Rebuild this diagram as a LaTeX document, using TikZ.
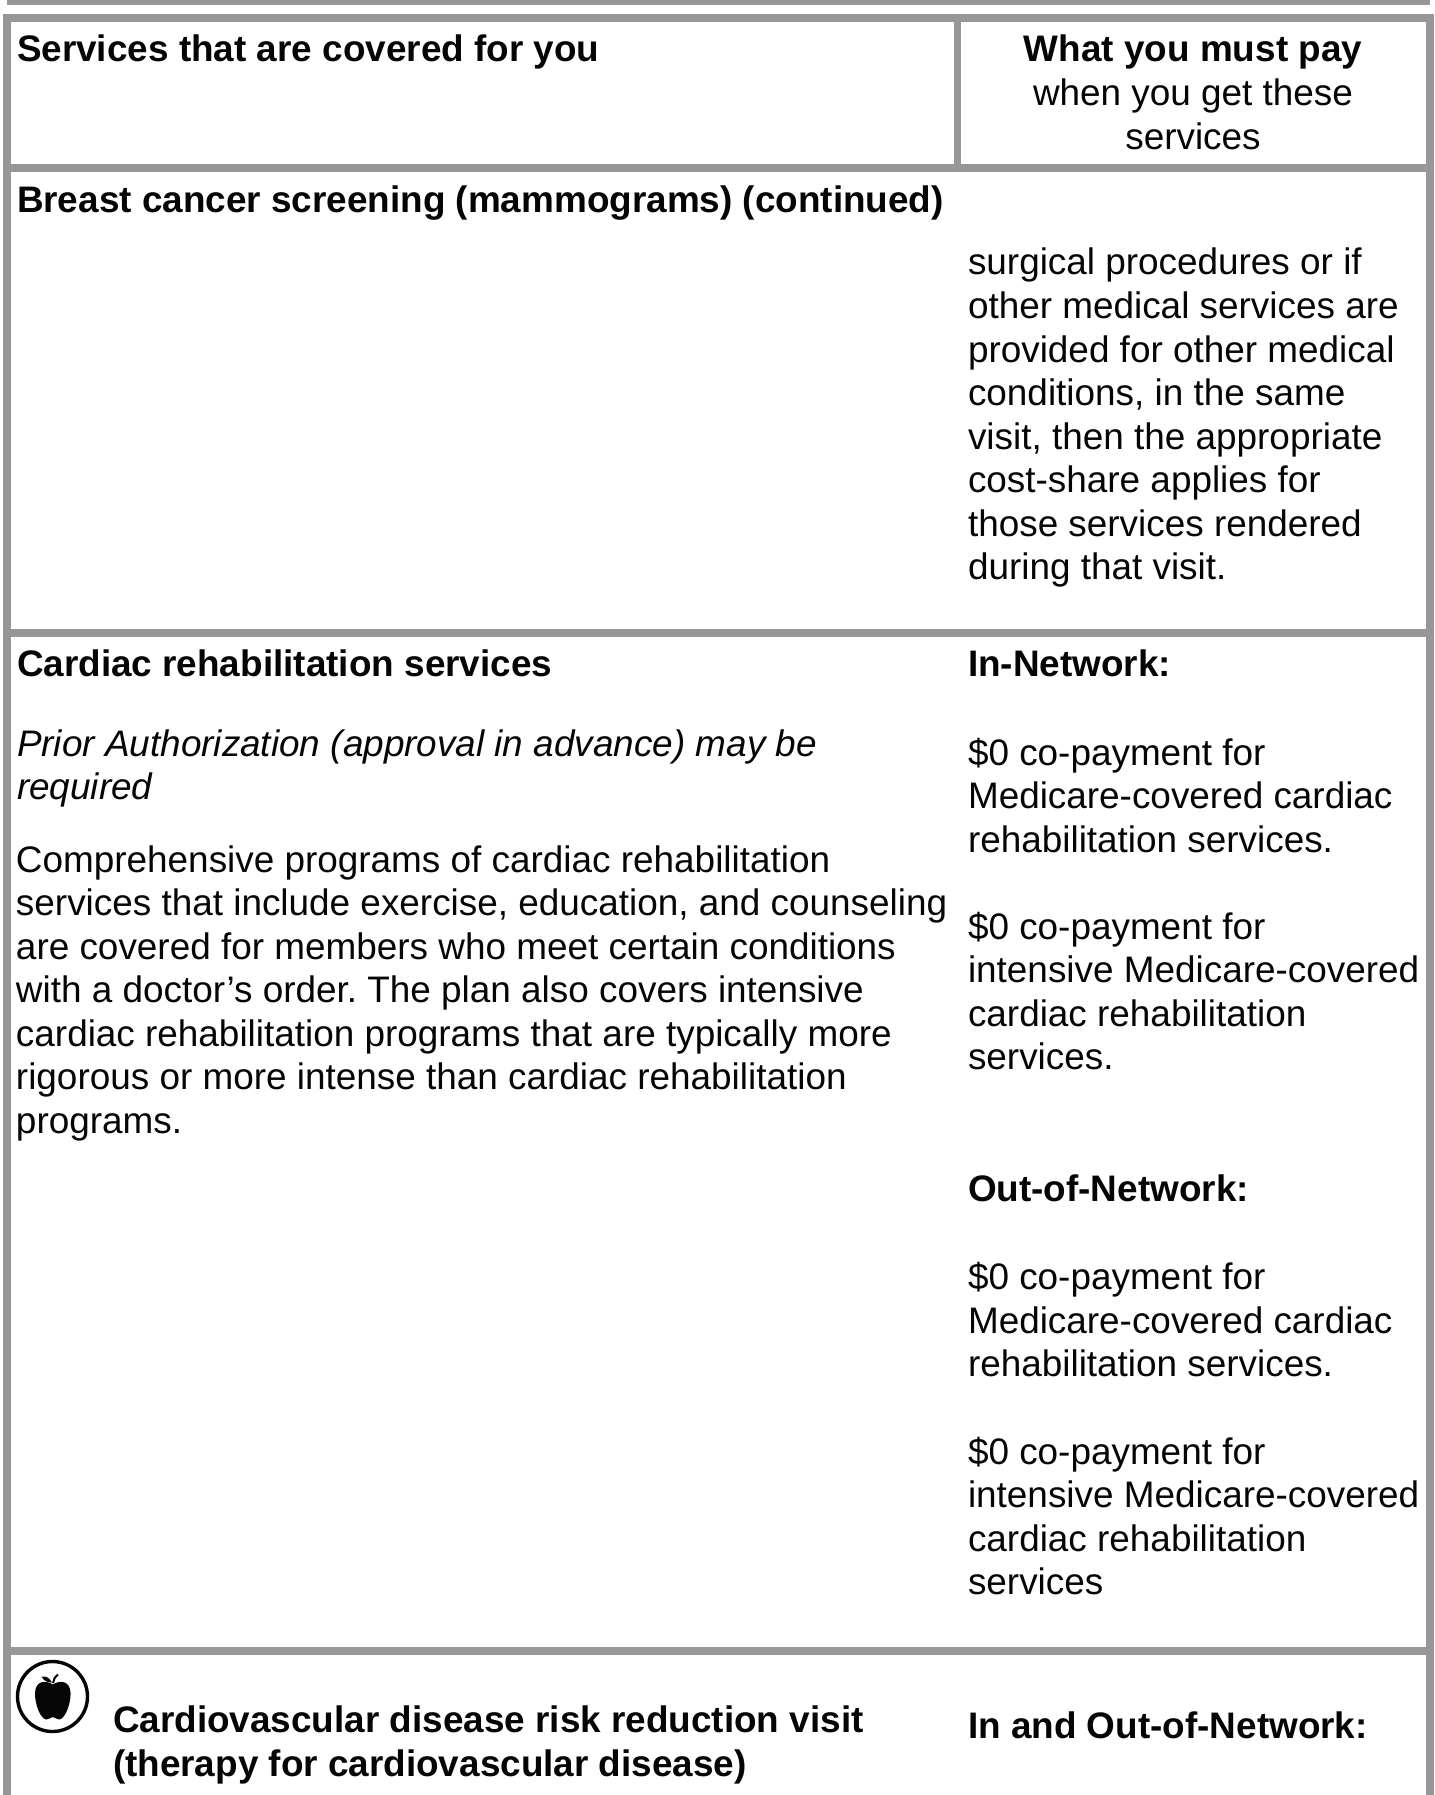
\documentclass[tikz,border=0pt]{standalone}
\usepackage{fontspec}
\setmainfont{Liberation Sans}
\frenchspacing
\definecolor{rulegray}{HTML}{979797}
\definecolor{inkblack}{HTML}{050505}
\tikzset{
  txt/.style={anchor=base west,inner sep=0pt,outer sep=0pt,text=inkblack,font=\fontsize{36.9}{43.5}\selectfont},
  btxt/.style={txt,font=\fontsize{36.9}{43.5}\selectfont\bfseries},
  itxt/.style={txt,font=\fontsize{36.9}{43.5}\selectfont\itshape},
  ctxt/.style={txt,anchor=base},
  cbtxt/.style={btxt,anchor=base},
  bar/.style={fill=rulegray,draw=none}
}
\begin{document}
\begin{tikzpicture}[x=1pt,y=-1pt]
\useasboundingbox (0,0) rectangle (1434,1795);
\fill[white] (0,0) rectangle (1434,1795);
% rules
\fill[bar] (7,0) rectangle (1430,5);
\fill[bar] (3,14) rectangle (1434,22);
\fill[bar] (3,14) rectangle (11,1795);
\fill[bar] (1426,14) rectangle (1434,1795);
\fill[bar] (954,14) rectangle (961,172);
\fill[bar] (3,164) rectangle (1434,172);
\fill[bar] (3,629) rectangle (1434,637);
\fill[bar] (3,1647) rectangle (1434,1655);
% header
\node[btxt] (h1) at (17,62) {Services that are covered for you};
\node[cbtxt] (h2) at (1193,62) {What you must pay};
\node[ctxt] (h3) at (1193,106) {when you get these};
\node[ctxt] (h4) at (1193,149.5) {services};
% breast
\node[btxt] (b1) at (17,213) {Breast cancer screening (mammograms) (continued)};
\node[txt] (b2) at (968,275) {surgical procedures or if};
\node[txt] (b3) at (968,318.5) {other medical services are};
\node[txt] (b4) at (968,362) {provided for other medical};
\node[txt] (b5) at (968,405.5) {conditions, in the same};
\node[txt] (b6) at (968,449) {visit, then the appropriate};
\node[txt] (b7) at (968,492.5) {cost-share applies for};
\node[txt] (b8) at (968,536) {those services rendered};
\node[txt] (b9) at (968,579.5) {during that visit.};
% cardiac left
\node[btxt] (c1) at (17,676) {Cardiac rehabilitation services};
\node[itxt] (c2) at (17,756) {Prior Authorization (approval in advance) may be};
\node[itxt] (c3) at (17,799) {required};
\node[txt] (c4) at (16,872) {Comprehensive programs of cardiac rehabilitation};
\node[txt] (c5) at (16,915.5) {services that include exercise, education, and counseling};
\node[txt] (c6) at (16,959) {are covered for members who meet certain conditions};
\node[txt] (c7) at (16,1002.5) {with a doctor’s order. The plan also covers intensive};
\node[txt] (c8) at (16,1046) {cardiac rehabilitation programs that are typically more};
\node[txt] (c9) at (16,1089.5) {rigorous or more intense than cardiac rehabilitation};
\node[txt] (c10) at (16,1133) {programs.};
% cardiac right
\node[btxt] (r1) at (968,676) {In-Network:};
\node[txt] (r2) at (968,765) {\$0 co-payment for};
\node[txt] (r3) at (968,808.5) {Medicare-covered cardiac};
\node[txt] (r4) at (968,852) {rehabilitation services.};
\node[txt] (r5) at (968,939) {\$0 co-payment for};
\node[txt] (r6) at (968,982.5) {intensive Medicare-covered};
\node[txt] (r7) at (968,1026) {cardiac rehabilitation};
\node[txt] (r8) at (968,1069.5) {services.};
\node[btxt] (r9) at (968,1201) {Out-of-Network:};
\node[txt] (r10) at (968,1289.5) {\$0 co-payment for};
\node[txt] (r11) at (968,1333) {Medicare-covered cardiac};
\node[txt] (r12) at (968,1376.5) {rehabilitation services.};
\node[txt] (r13) at (968,1464) {\$0 co-payment for};
\node[txt] (r14) at (968,1507.5) {intensive Medicare-covered};
\node[txt] (r15) at (968,1551) {cardiac rehabilitation};
\node[txt] (r16) at (968,1594.5) {services};
% cardiovascular
\node[btxt] (v1) at (113,1732.5) {Cardiovascular disease risk reduction visit};
\node[btxt] (v2) at (113,1776.5) {(therapy for cardiovascular disease)};
\node[btxt] (v3) at (968,1738) {In and Out-of-Network:};
% apple icon
\draw[line width=3.4pt,inkblack] (52.5,1696.5) circle[radius=35];
\fill[inkblack] (52.8,1684.5)
  .. controls (47,1680.5) and (35.5,1679.5) .. (35,1693)
  .. controls (34.8,1705) and (41,1719.5) .. (46.5,1719.5)
  .. controls (49.5,1719.5) and (50.5,1717) .. (52.8,1717)
  .. controls (55,1717) and (56,1719.5) .. (59,1719.5)
  .. controls (64.5,1719.5) and (70.8,1705) .. (70.6,1693)
  .. controls (70,1679.5) and (58.5,1680.5) .. (52.8,1684.5) -- cycle;
\draw[inkblack,line width=2pt] (53,1683) .. controls (53.3,1679.5) and (55,1677) .. (58,1674.5);
\fill[inkblack] (52,1682.5) .. controls (49.5,1677.5) and (46,1676) .. (41.5,1676.5)
  .. controls (43.5,1680.5) and (47,1682.5) .. (52,1682.5) -- cycle;
\end{tikzpicture}
\end{document}
